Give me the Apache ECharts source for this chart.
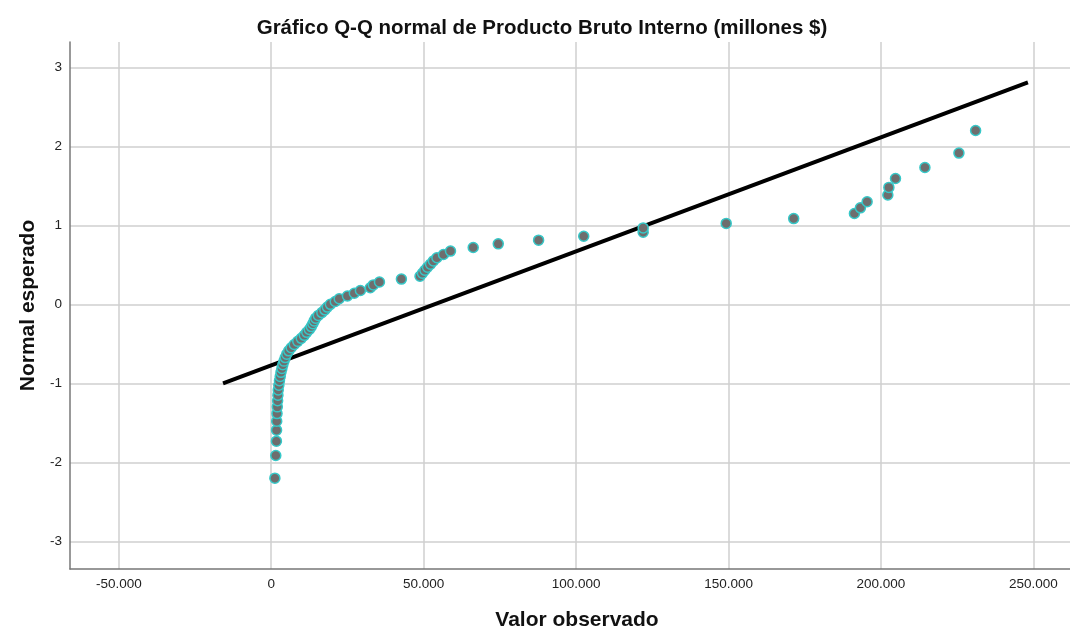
<!DOCTYPE html>
<html>
<head>
<meta charset="utf-8">
<script src="https://cdn.jsdelivr.net/npm/echarts@6/dist/echarts.min.js"></script>
<style>
	html, body { margin: 0; padding: 0; background: #fff; }
	#chart { width: 1070px; height: 630px; }
</style>
</head>
<body>
<div id="chart"></div>
<script>
(function(){
	'use strict';

	// valores observados (ordenados)
	var qqX = [
		1200, 1500, 1700, 1750, 1800, 1900, 2000, 2100, 2200, 2300,
		2500, 2700, 2950, 3200, 3500, 3800, 4200, 4600, 5100, 5750,
		6550, 7550, 8700, 9850, 10850, 11650, 12500, 13150, 13650, 14100,
		14600, 15450, 16600, 17600, 18400, 19400, 21000, 22300, 25000, 27250,
		29250, 32500, 33500, 35500, 42700, 48800, 49600, 50400, 51250, 52250,
		53200, 54350, 56500, 58800, 66250, 74470, 87700, 102500, 122000, 122000,
		149240, 171370, 191290, 193260, 195460, 202250, 202590, 204760, 214410, 225570,
		231040
	];
	// normal esperado
	var qqY = [
		-2.200, -1.914, -1.732, -1.593, -1.480, -1.383, -1.298, -1.221, -1.150, -1.085,
		-1.024, -0.967, -0.913, -0.861, -0.812, -0.765, -0.719, -0.674, -0.631, -0.589,
		-0.549, -0.508, -0.469, -0.431, -0.393, -0.355, -0.319, -0.282, -0.246, -0.210,
		-0.175, -0.140, -0.105, -0.070, -0.035, 0, 0.035, 0.070, 0.105, 0.140,
		0.175, 0.210, 0.246, 0.282, 0.319, 0.355, 0.393, 0.431, 0.469, 0.508,
		0.549, 0.589, 0.631, 0.674, 0.719, 0.765, 0.812, 0.861, 0.913, 0.967,
		1.024, 1.085, 1.150, 1.221, 1.298, 1.383, 1.480, 1.593, 1.732, 1.914,
		2.200
	];
	// recta de referencia
	var lineX = [-15800, 248200];
	var lineY = [-1.00, 2.81];

	var xTicks = [-50000, 0, 50000, 100000, 150000, 200000, 250000];
	var yTicks = [-3, -2, -1, 0, 1, 2, 3];

	var fmtMiles = function(v){
		var s = Math.abs(v).toString().replace(/\B(?=(\d{3})+(?!\d))/g, '.');
		return (v < 0 ? '-' : '') + s;
	};

	var points = qqX.map(function(x, i){ return [x, qqY[i]]; });
	var refLine = lineX.map(function(x, i){ return [x, lineY[i]]; });

	var font = '"Liberation Sans", Arial, sans-serif';
	var myChart = echarts.init(document.getElementById('chart'));

	var option = {
		animation: false,
		backgroundColor: '#fff',
		title: {
			text: 'Gráfico Q-Q normal de Producto Bruto Interno (millones $)',
			left: 537,
			textAlign: 'center',
			top: 13,
			textStyle: { fontFamily: font, fontSize: 20.5, fontWeight: 'bold', color: '#111' }
		},
		grid: { left: 70, right: 0, top: 42, bottom: 61, containLabel: false, outerBoundsMode: 'none' },
		xAxis: {
			type: 'value',
			min: -66000,
			max: 262000,
			name: 'Valor observado',
			nameLocation: 'middle',
			nameGap: 41,
			nameTextStyle: { fontFamily: font, fontSize: 21, fontWeight: 'bold', color: '#111', padding: [0, 0, 0, 14] },
			axisLine: { show: true, onZero: false, lineStyle: { color: '#777', width: 1.5 } },
			axisTick: { show: false, customValues: xTicks },
			axisLabel: {
				customValues: xTicks,
				formatter: fmtMiles,
				margin: 8,
				fontFamily: font, fontSize: 13.5, color: '#222'
			},
			splitLine: { show: true, lineStyle: { color: '#cfcfcf', width: 1.5 } }
		},
		yAxis: {
			type: 'value',
			min: -3.35,
			max: 3.32,
			name: 'Normal esperado',
			nameLocation: 'middle',
			nameGap: 27,
			nameTextStyle: { fontFamily: font, fontSize: 21, fontWeight: 'bold', color: '#111' },
			axisLine: { show: true, onZero: false, lineStyle: { color: '#777', width: 1.5 } },
			axisTick: { show: false, customValues: yTicks },
			axisLabel: {
				customValues: yTicks,
				margin: 8,
				fontFamily: font, fontSize: 13.5, color: '#222'
			},
			splitLine: { show: true, lineStyle: { color: '#cfcfcf', width: 1.5 } }
		},
		series: [
			{
				type: 'line',
				data: refLine,
				showSymbol: false,
				lineStyle: { color: '#000', width: 4 },
				z: 2
			},
			{
				type: 'scatter',
				data: points,
				symbol: 'circle',
				symbolSize: 10,
				itemStyle: { color: '#6e6e6e', borderColor: '#36c8c8', borderWidth: 1.5, opacity: 1 },
				z: 3
			}
		]
	};
	myChart.setOption(option);
})();
</script>
</body>
</html>
